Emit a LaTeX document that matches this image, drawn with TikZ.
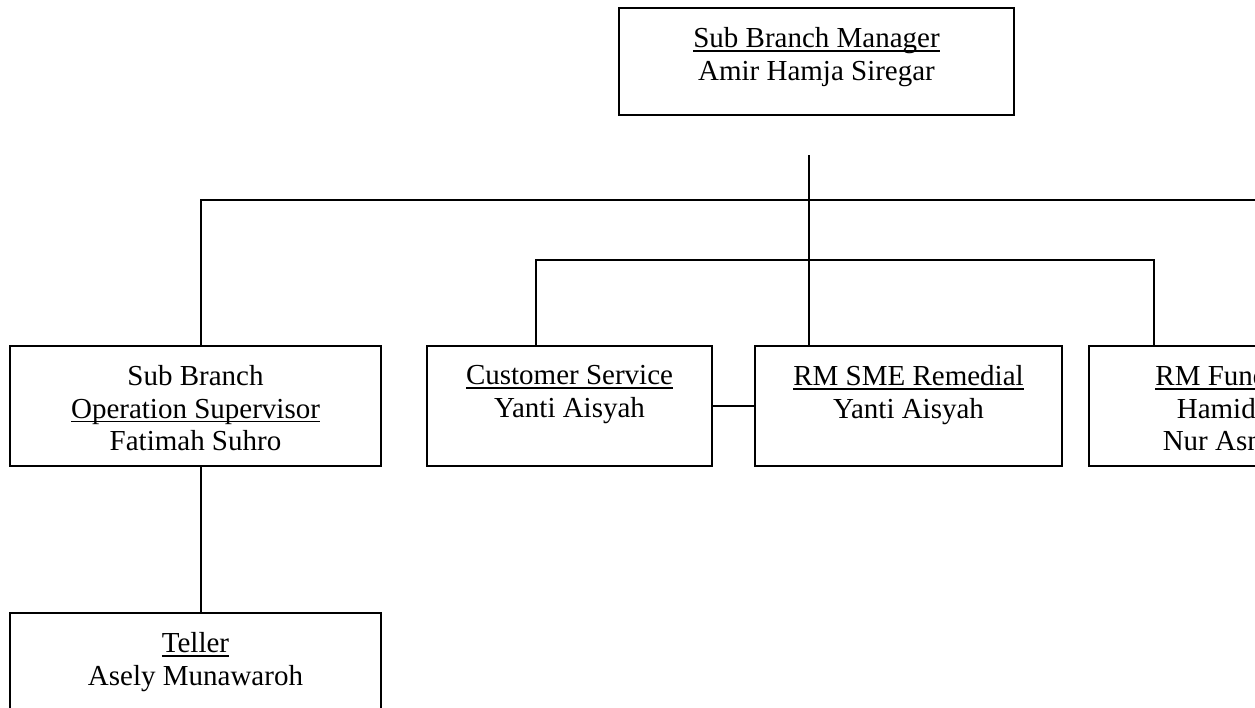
\documentclass[tikz,border=0pt]{standalone}
\usepackage{fontspec}
\setmainfont{Liberation Serif}
\usetikzlibrary{positioning, calc}
\newsavebox{\undlbox}
\newcommand{\undl}[1]{\sbox{\undlbox}{#1}\rlap{\rule[-4pt]{\wd\undlbox}{1.4pt}}\usebox{\undlbox}}
\tikzset{
  post/.style     = {draw, rectangle, line width=1.4pt,
                     minimum height=120pt, inner sep=0pt},
  posttext/.style = {anchor=north, align=center, inner sep=0pt,
                     yshift=-20pt, font=\fontsize{29}{32.5}\selectfont},
  link/.style     = {line width=1.4pt},
}
\begin{document}
\begin{tikzpicture}[x=1pt, y=-1pt]

% ────────────────────────────────────────────────────────────
%  Page frame (picture is cut at the right and bottom edges)
% ────────────────────────────────────────────────────────────
\useasboundingbox (0,0) rectangle (1255,707);
\clip (0,0) rectangle (1255,707);

% ═══════════════════════════════════════════════════════════
%  MANAGER
% ═══════════════════════════════════════════════════════════
\node[post, minimum width=395pt, minimum height=107pt] (sbm) at (816.5, 61.5) {};
\node[posttext] (sbm-t) at (sbm.north)
  {\undl{Sub Branch Manager}\\Amir Hamja Siregar};

% ═══════════════════════════════════════════════════════════
%  STAFF ROW
% ═══════════════════════════════════════════════════════════
\node[post, minimum width=371pt] (sbos) at (195.5, 406) {};
\node[posttext] (sbos-t) at (sbos.north)
  {Sub Branch\\\undl{Operation Supervisor}\\Fatimah Suhro};

\node[post, minimum width=285pt] (cs) at (569.5, 406) {};
\node[posttext] (cs-t) at (cs.north)
  {\undl{Customer Service}\\Yanti Aisyah};

\node[post, minimum width=307pt] (rms) at (908.5, 406) {};
\node[posttext] (rms-t) at (rms.north)
  {\undl{RM SME Remedial}\\Yanti Aisyah};

\node[post, minimum width=282pt] (rmf) at (1230, 406) {};
\node[posttext] (rmf-t) at (rmf.north)
  {\undl{RM Funding}\\Hamidah\\Nur Asmah};

\node[post, minimum width=371pt] (tel) at (195.5, 673) {};
\node[posttext] (tel-t) at (tel.north)
  {\undl{Teller}\\Asely Munawaroh};

% ═══════════════════════════════════════════════════════════
%  CONNECTORS
% ═══════════════════════════════════════════════════════════
\coordinate (stub)  at (809, 155);
\coordinate (bus-l) at (201, 200);
\coordinate (bus-r) at (1270, 200);
\coordinate (brk-l) at (536, 260);
\coordinate (brk-r) at (1154, 260);

\draw[link] (stub) -- (stub |- rms.north);
\draw[link] (bus-r) -- (bus-l) -- (bus-l |- sbos.north);
\draw[link] (brk-l |- cs.north) -- (brk-l) -- (brk-r) -- (brk-r |- rmf.north);
\draw[link] (cs.east) -- (rms.west);
\draw[link] (bus-l |- sbos.south) -- (bus-l |- tel.north);

\end{tikzpicture}
\end{document}
